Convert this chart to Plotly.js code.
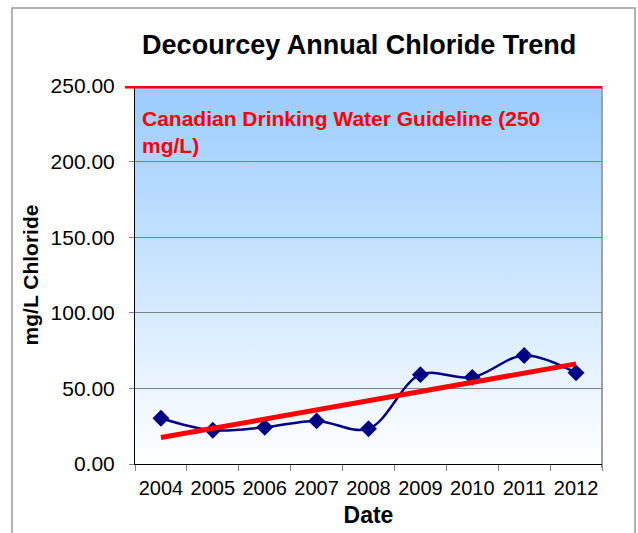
<!DOCTYPE html>
<html>
<head>
<meta charset="utf-8">
<script src="https://cdn.plot.ly/plotly-3.0.1.min.js"></script>
<style>html,body{margin:0;padding:0;background:#fff;}#chart{width:638px;height:533px;}</style>
</head>
<body>
<div id="chart"></div>
<script>
// Data
var years = ['2004','2005','2006','2007','2008','2009','2010','2011','2012'];
var chloride = [30.3, 22.3, 24.3, 28.5, 23.3, 59.1, 57.3, 71.8, 60.3];
var trendYears = ['2004','2012'];
var trendValues = [17.5, 66.2];
var guidelineValue = 250;
var yTicks = [0, 50, 100, 150, 200, 250];

var FONT = 'Arial, "Liberation Sans", Helvetica, sans-serif';

var gradSvg = "<svg xmlns='http://www.w3.org/2000/svg' width='10' height='100' viewBox='0 0 10 100' preserveAspectRatio='none'>" +
  "<defs><linearGradient id='g' x1='0' y1='0' x2='0' y2='1'>" +
  "<stop offset='0' stop-color='#99CCFF'/><stop offset='1' stop-color='#FFFFFF'/>" +
  "</linearGradient></defs><rect x='0' y='0' width='10' height='100' fill='url(#g)'/></svg>";
var gradUri = 'data:image/svg+xml;charset=utf-8,' + encodeURIComponent(gradSvg);

var traces = [
  {
    x: years, y: chloride, type: 'scatter', mode: 'lines+markers',
    line: {color: '#000080', width: 2.5, shape: 'spline', smoothing: 1},
    marker: {symbol: 'diamond', size: 13, color: '#000080'},
    hoverinfo: 'x+y', showlegend: false
  },
  {
    x: trendYears, y: trendValues, type: 'scatter', mode: 'lines',
    line: {color: '#FF0000', width: 5},
    showlegend: false, hoverinfo: 'skip'
  }
];

var layout = {
  width: 638, height: 533,
  margin: {l: 135, r: 36, t: 86, b: 69, pad: 0},
  paper_bgcolor: '#FFFFFF',
  plot_bgcolor: 'rgba(0,0,0,0)',
  font: {family: FONT, color: '#000000', size: 20},
  title: {
    text: '<b>Decourcey Annual Chloride Trend</b>',
    font: {family: FONT, size: 27, color: '#000000'},
    x: 0.48, xref: 'paper', xanchor: 'center',
    y: 0.916, yref: 'container', yanchor: 'middle'
  },
  xaxis: {
    type: 'category',
    categoryorder: 'array', categoryarray: years,
    range: [-0.5, 8.5],
    tickson: 'boundaries',
    tickangle: 0,
    ticks: 'outside', ticklen: 6, tickcolor: '#808080', tickwidth: 1,
    ticklabelstandoff: 6,
    showline: true, linecolor: '#000000', linewidth: 1,
    showgrid: false, zeroline: false,
    tickfont: {family: FONT, size: 20, color: '#000000'},
    title: {text: '<b>Date</b>', font: {family: FONT, size: 23, color: '#000000'}, standoff: 8},
    fixedrange: true
  },
  yaxis: {
    range: [0, 250],
    tickvals: yTicks,
    tickformat: '.2f',
    ticks: 'outside', ticklen: 5, tickcolor: '#808080', tickwidth: 1,
    ticklabelstandoff: 10,
    showline: true, linecolor: '#000000', linewidth: 1,
    showgrid: true, gridcolor: '#808080', gridwidth: 1,
    zeroline: false,
    tickfont: {family: FONT, size: 21, color: '#000000'},
    title: {text: '<b>mg/L Chloride</b>', font: {family: FONT, size: 21, color: '#000000'}, standoff: 6},
    fixedrange: true
  },
  images: [{
    source: gradUri, xref: 'paper', yref: 'paper',
    x: 0, y: 1, sizex: 1, sizey: 1,
    xanchor: 'left', yanchor: 'top', sizing: 'stretch', layer: 'below'
  }],
  shapes: [
    {type: 'line', xref: 'paper', yref: 'paper', x0: 1, x1: 1, y0: -0.011, y1: 1,
     line: {color: '#A0A0A0', width: 2}, layer: 'below'},
    {type: 'line', xref: 'paper', yref: 'y', x0: -0.0214, x1: 1, y0: guidelineValue, y1: guidelineValue,
     line: {color: '#FF0000', width: 5}, layer: 'above'},
    {type: 'rect', xref: 'paper', yref: 'paper', x0: -0.2634, x1: 1.0707, y0: -0.25, y1: 1.2063,
     line: {color: '#9A9A9A', width: 1.5}, fillcolor: 'rgba(0,0,0,0)', layer: 'below'}
  ],
  annotations: [{
    xref: 'paper', yref: 'paper', x: 0.011, y: 0.878,
    xanchor: 'left', yanchor: 'middle', align: 'left', showarrow: false,
    text: '<b>Canadian Drinking Water Guideline (250<br>mg/L)</b>',
    font: {family: FONT, size: 21, color: '#FF0000'}
  }]
};

Plotly.newPlot('chart', traces, layout, {displayModeBar: false, staticPlot: true});
</script>
</body>
</html>
